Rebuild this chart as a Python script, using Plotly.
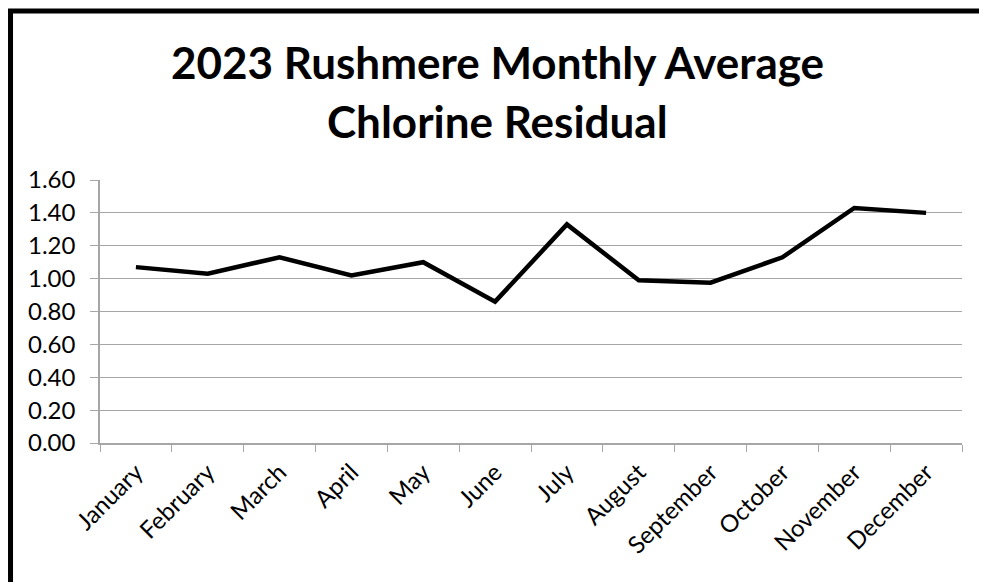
import plotly.graph_objects as go

months = ["January", "February", "March", "April", "May", "June",
          "July", "August", "September", "October", "November", "December"]
chlorine = [1.07, 1.03, 1.13, 1.02, 1.10, 0.86, 1.33, 0.99, 0.975, 1.13, 1.43, 1.40]
y_ticks = [0.0, 0.2, 0.4, 0.6, 0.8, 1.0, 1.2, 1.4, 1.6]
y_tick_labels = ["0.00", "0.20", "0.40", "0.60", "0.80", "1.00", "1.20", "1.40", "1.60"]
title_lines = ["2023 Rushmere Monthly Average", "Chlorine Residual"]

FONT = "Lato"
GRID = "#a6a6a6"

fig = go.Figure()
fig.add_trace(go.Scatter(
    x=months, y=chlorine, mode="lines",
    line=dict(color="black", width=4.5),
    showlegend=False, hoverinfo="x+y",
))

# page body has an 8px default margin, so the figure is sized to compensate
fig.update_layout(
    width=979, height=574,
    margin=dict(l=92, r=25, t=172, b=139, autoexpand=False),
    paper_bgcolor="white", plot_bgcolor="white",
    font=dict(family=FONT, color="black"),
    xaxis=dict(
        type="category",
        range=[-0.5, 11.5],
        tickson="boundaries",
        ticks="outside", ticklen=7, tickcolor=GRID, tickwidth=1,
        showline=True, linecolor=GRID, linewidth=1.5,
        showgrid=False, zeroline=False,
        tickangle=-45, automargin=False,
        ticklabelstandoff=4,
        tickfont=dict(family=FONT, size=24, color="black"),
    ),
    yaxis=dict(
        range=[0, 1.6],
        tickvals=y_ticks, ticktext=y_tick_labels,
        ticks="outside", ticklen=8, tickcolor=GRID, tickwidth=1,
        showline=True, linecolor=GRID, linewidth=1.5,
        showgrid=True, gridcolor=GRID, gridwidth=1.2,
        zeroline=False, automargin=False,
        ticklabelstandoff=10,
        tickfont=dict(family=FONT, size=24, color="black"),
    ),
    annotations=[
        dict(text="<b>%s</b>" % title_lines[0], xref="paper", yref="paper",
             x=0.4617, y=1.448, xanchor="center", yanchor="middle",
             showarrow=False, font=dict(family=FONT, size=44, color="black")),
        dict(text="<b>%s</b>" % title_lines[1], xref="paper", yref="paper",
             x=0.4617, y=1.226, xanchor="center", yanchor="middle",
             showarrow=False, font=dict(family=FONT, size=44, color="black")),
    ],
    shapes=[
        dict(type="line", xref="paper", yref="paper",
             x0=-0.1067, x1=1.2, y0=1.6426, y1=1.6426,
             line=dict(color="black", width=5)),
        dict(type="line", xref="paper", yref="paper",
             x0=-0.1038, x1=-0.1038, y0=1.6426, y1=-0.7,
             line=dict(color="black", width=5)),
    ],
)

fig.write_html("out.html")
